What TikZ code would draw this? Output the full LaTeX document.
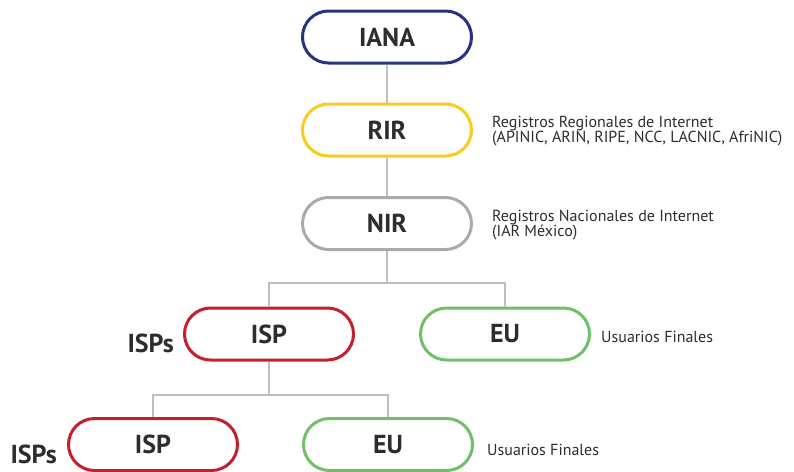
\documentclass[tikz,border=0pt]{standalone}
\usepackage{fontspec}
\setmainfont{PT Sans}
\definecolor{azul}{RGB}{38,52,128}
\definecolor{amarillo}{RGB}{246,204,30}
\definecolor{gris}{RGB}{170,170,170}
\definecolor{rojo}{RGB}{196,32,44}
\definecolor{verde}{RGB}{112,192,104}
\definecolor{texto}{RGB}{45,45,45}
\begin{document}
\begin{tikzpicture}[x=1pt, y=-1pt,
        caja/.style={draw=#1, line width=3pt, rounded corners=26pt, minimum width=169pt, minimum height=52pt,
            fill=white, text=texto, font=\fontsize{26}{30}\selectfont\bfseries},
        linea/.style={draw=black!25, line width=1.3pt},
        nota/.style={anchor=west, align=left, inner sep=0pt, text=texto, font=\fontsize{16}{15}\selectfont},
        etiqueta/.style={anchor=base east, inner sep=0pt, text=texto, font=\fontsize{26}{30}\selectfont\bfseries}]
        \useasboundingbox (0,0) rectangle (794,471);

        \node[caja=azul] (iana) at (387,37) {IANA};
        \node[caja=amarillo] (rir) at (387,130) {RIR};
        \node[caja=gris] (nir) at (387,223.5) {NIR};
        \node[caja=rojo] (isp) at (269,334) {ISP};
        \node[caja=verde] (eu) at (505,334) {EU};
        \node[caja=rojo] (ispb) at (153,444.5) {ISP};
        \node[caja=verde] (eub) at (388,444.5) {EU};

        \coordinate (c1) at (387,283);
        \coordinate (c2) at (269,395);
        \draw[linea] (iana) -- (rir);
        \draw[linea] (rir) -- (nir);
        \draw[linea] (nir) -- (c1);
        \draw[linea] (isp.north) |- (c1) -| (eu.north);
        \draw[linea] (isp) -- (c2);
        \draw[linea] (ispb.north) |- (c2) -| (eub.north);

        \node[nota] (nrir) at (492,131) {Registros Regionales de Internet\\(APINIC, ARIN, RIPE, NCC, LACNIC, AfriNIC)};
        \node[nota] (nnir) at (492,225) {Registros Nacionales de Internet\\(IAR México)};
        \node[nota, anchor=base west] (neu) at (601,342) {Usuarios Finales};
        \node[nota, anchor=base west] (neub) at (487,455) {Usuarios Finales};
        \node[etiqueta] (lisp) at (174,352) {ISPs};
        \node[etiqueta] (lispb) at (57,463) {ISPs};

    \end{tikzpicture}
\end{document}
